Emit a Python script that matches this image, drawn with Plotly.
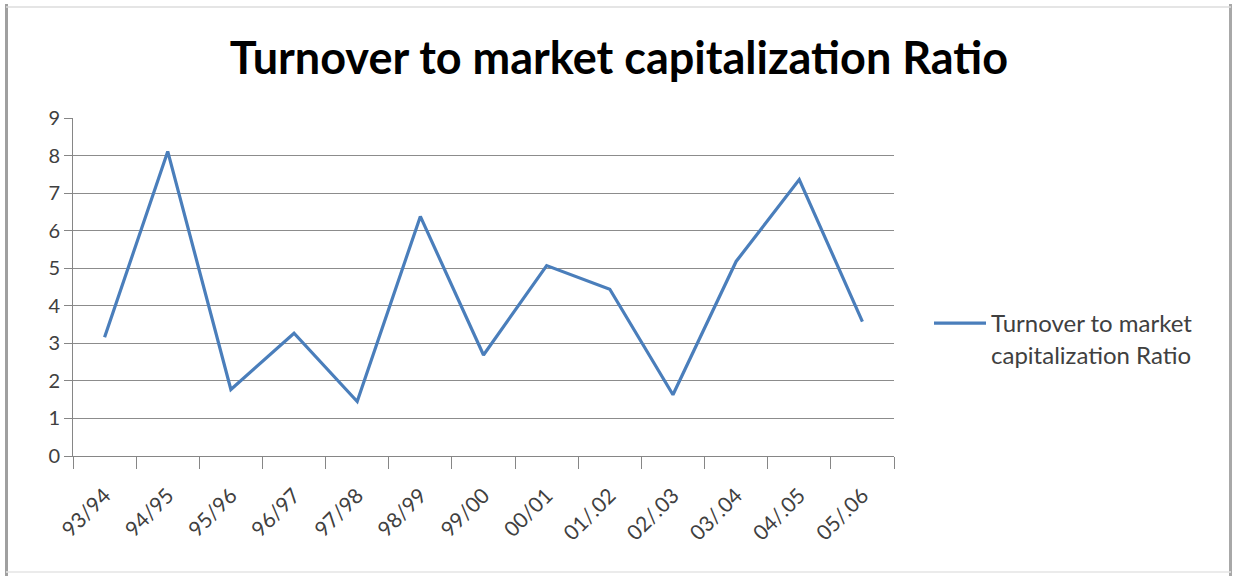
import plotly.graph_objects as go

categories = ["93/94", "94/95", "95/96", "96/97", "97/98", "98/99", "99/00",
              "00/01", "01/.02", "02/.03", "03/.04", "04/.05", "05/.06"]
ratio = [3.16, 8.11, 1.77, 3.27, 1.45, 6.38, 2.69, 5.07, 4.44, 1.63, 5.18, 7.36, 3.58]
y_ticks = [0, 1, 2, 3, 4, 5, 6, 7, 8, 9]

series_name = "Turnover to market<br>capitalization Ratio"
font_family = "Lato, 'Open Sans', sans-serif"

FIG_W, FIG_H = 1238, 580
L, R, T, B = 73, 894, 118, 456
W, H = R - L, B - T


def px(x):
    return (x - L) / W


def py(y):
    return (B - y) / H


fig = go.Figure()
fig.add_trace(go.Scatter(
    x=categories, y=ratio, mode="lines", name=series_name,
    line=dict(color="#4A7EBB", width=3.2),
))

border_shapes = [
    dict(type="line", xref="paper", yref="paper", x0=px(6.5), x1=px(6.5), y0=py(4), y1=py(576),
         line=dict(color="#a0a0a0", width=3)),
    dict(type="line", xref="paper", yref="paper", x0=px(1230.5), x1=px(1230.5), y0=py(4), y1=py(576),
         line=dict(color="#a8a8a8", width=3)),
    dict(type="line", xref="paper", yref="paper", x0=px(6), x1=px(1231), y0=py(7), y1=py(7),
         line=dict(color="#dcdcdc", width=1.5)),
    dict(type="line", xref="paper", yref="paper", x0=px(6), x1=px(1231), y0=py(572), y1=py(572),
         line=dict(color="#e4e4e4", width=1.5)),
]

fig.update_layout(
    width=FIG_W, height=FIG_H,
    paper_bgcolor="white", plot_bgcolor="white",
    margin=dict(l=L, r=FIG_W - R, t=T, b=FIG_H - B, autoexpand=False),
    title=dict(text="<b>Turnover to market capitalization Ratio</b>",
               x=0.5, xanchor="center", y=1 - 58.5 / FIG_H, yref="container",
               yanchor="middle",
               font=dict(family=font_family, size=45, color="#000000")),
    font=dict(family=font_family, color="#404040"),
    showlegend=True,
    legend=dict(x=px(929), xanchor="left", y=py(339), yanchor="middle",
                font=dict(size=24, color="#404040"), valign="top",
                bgcolor="rgba(0,0,0,0)", itemwidth=52, tracegroupgap=0),
    xaxis=dict(type="category", range=[-0.5, len(categories) - 0.5], automargin=False,
               showgrid=False, showline=True, linecolor="#868686",
               linewidth=1, ticks="outside", tickson="boundaries", ticklen=12,
               tickcolor="#868686", tickangle=-45, ticklabelstandoff=18,
               tickfont=dict(size=21, color="#404040")),
    yaxis=dict(range=[0, 9], tickvals=y_ticks, automargin=False, showgrid=True,
               gridcolor="#8c8c8c", gridwidth=1, showline=True, linecolor="#868686",
               ticks="outside", ticklen=8, tickcolor="#868686", zeroline=False,
               tickfont=dict(size=20, color="#404040")),
    shapes=border_shapes,
)

# remove the default page margin so the figure sits at the window's top-left corner
fig.write_html("out.html",
               config={"displayModeBar": False},
               post_script="document.body.style.margin='0';document.body.style.overflow='hidden';")
